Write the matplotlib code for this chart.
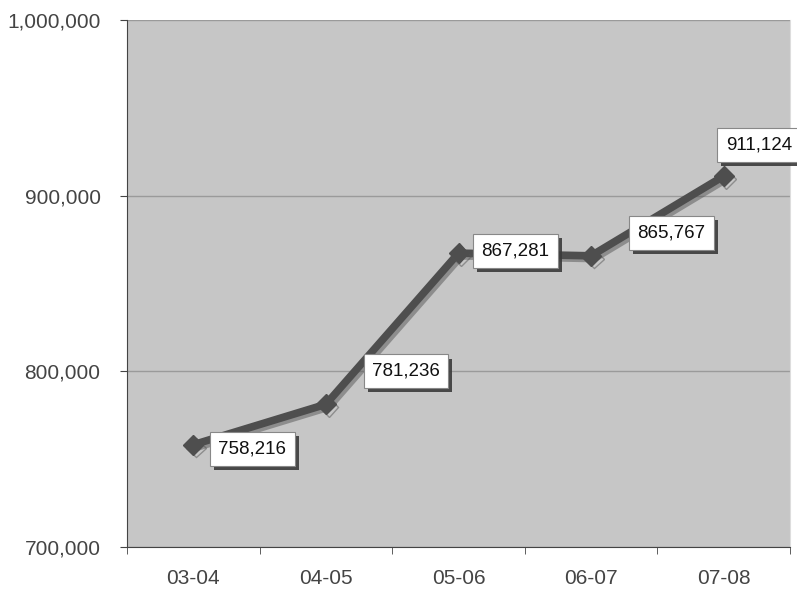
import matplotlib
matplotlib.use("Agg")
import matplotlib.pyplot as plt
import matplotlib.patheffects as pe
from matplotlib.ticker import FuncFormatter, FixedLocator

plt.rcParams['font.family'] = ['Liberation Sans', 'DejaVu Sans']

years = ["03-04", "04-05", "05-06", "06-07", "07-08"]
totals = [758216, 781236, 867281, 865767, 911124]
y_ticks = [700000, 800000, 900000, 1000000]
# label offsets from each point, in pixels
label_offsets = [(59, -4), (80, 33), (57, 2), (80, 23), (35, 31)]

fig = plt.figure(figsize=(7.97, 5.89), dpi=100)
ax = fig.add_axes([127 / 797, 42 / 589, 663 / 797, 527 / 589])
ax.set_facecolor("#c6c6c6")

x = list(range(len(years)))
ax.plot(x, totals, color="#4e4e4e", lw=5.5, marker="D", ms=10,
        solid_joinstyle="round", zorder=3,
        path_effects=[pe.SimpleLineShadow(offset=(2, -2), shadow_color="#555555", alpha=0.5),
                      pe.Normal()])

for xi, val, (dx, dy) in zip(x, totals, label_offsets):
    t = ax.annotate(f"{val:,}", (xi, val), xytext=(dx, dy), textcoords="offset pixels",
                    ha="center", va="center", fontsize=13.5, color="#111111",
                    annotation_clip=False, zorder=5,
                    bbox=dict(boxstyle="square,pad=0.45", fc="white", ec="#888888", lw=0.8))
    t.get_bbox_patch().set_path_effects([
        pe.SimplePatchShadow(offset=(3, -3), shadow_rgbFace="#3a3a3a", alpha=0.9),
        pe.Normal()])

ax.set_xlim(-0.5, len(years) - 0.5)
ax.set_ylim(700000, 1000000)
ax.set_yticks(y_ticks)
ax.yaxis.set_major_formatter(FuncFormatter(lambda v, p: f"{int(v):,}"))
ax.grid(axis="y", color="#9a9a9a", lw=1)
ax.set_axisbelow(True)

ax.set_xticks(x)
ax.set_xticklabels(years)
ax.xaxis.set_minor_locator(FixedLocator([i - 0.5 for i in range(len(years) + 1)]))
ax.tick_params(axis="x", which="major", length=0, pad=16, labelsize=15, labelcolor="#444444")
ax.tick_params(axis="x", which="minor", length=5, color="#444444", direction="out")
ax.tick_params(axis="y", length=5, pad=14, labelsize=15, labelcolor="#444444", color="#444444")

ax.spines["top"].set_visible(False)
ax.spines["right"].set_color("#dddddd")
ax.spines["left"].set_color("#444444")
ax.spines["bottom"].set_color("#444444")

fig.savefig("out.png", dpi=100)
